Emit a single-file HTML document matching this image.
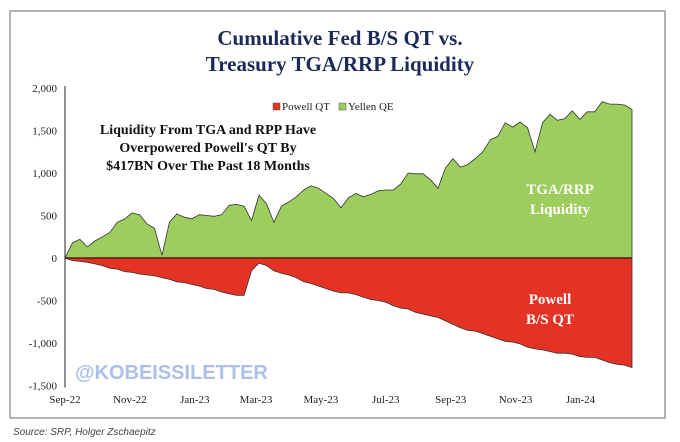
<!DOCTYPE html>
<html><head><meta charset="utf-8"><style>
body{margin:0;background:#fff;width:680px;height:442px;overflow:hidden}
svg{display:block}
.t{font-family:"Liberation Serif",serif}
</style></head><body>
<svg width="680" height="442">
<rect x="10" y="11" width="655" height="407" fill="#fff" stroke="#8a8a8a" stroke-width="1.3"/>
<text class="t" x="340" y="45" text-anchor="middle" font-size="21" font-weight="bold" fill="#1b2a58">Cumulative Fed B/S QT vs.</text>
<text class="t" x="340" y="71" text-anchor="middle" font-size="21" font-weight="bold" fill="#1b2a58">Treasury TGA/RRP Liquidity</text>
<g>
<rect x="273" y="103" width="7" height="7" fill="#e03524" stroke="#555" stroke-width="0.5"/>
<text class="t" x="282" y="110" font-size="11" fill="#222">Powell QT</text>
<rect x="339" y="103" width="7" height="7" fill="#9dcd5c" stroke="#555" stroke-width="0.5"/>
<text class="t" x="348" y="110" font-size="11" fill="#222">Yellen QE</text>
</g>
<g id="plot"></g>
<g class="t" font-weight="bold" font-size="14" fill="#111" text-anchor="middle">
<text x="208" y="134">Liquidity From TGA and RPP Have</text>
<text x="208" y="152">Overpowered Powell's QT By</text>
<text x="208" y="170">$417BN Over The Past 18 Months</text>
</g>
<g class="t" font-weight="bold" font-size="15" fill="#fff" text-anchor="middle">
<text x="560" y="194">TGA/RRP</text>
<text x="560" y="214">Liquidity</text>
<text x="550" y="304">Powell</text>
<text x="550" y="324">B/S QT</text>
</g>
<text x="75" y="379" font-family="Liberation Sans,sans-serif" font-weight="bold" font-size="20" fill="#adc0ea">@KOBEISSILETTER</text>
<text x="13" y="435" font-family="Liberation Sans,sans-serif" font-style="italic" font-size="10" fill="#444">Source: SRP, Holger Zschaepitz</text>
</svg>
<script>
const yellenQE=[0,180,220,130,200,250,300,420,460,530,510,400,350,30,420,520,480,460,510,500,490,510,620,630,610,440,740,640,420,610,660,720,800,850,820,760,700,590,710,760,720,750,790,800,800,870,1000,990,990,920,820,1060,1170,1070,1100,1170,1250,1390,1430,1590,1540,1600,1530,1250,1590,1690,1620,1640,1730,1630,1720,1720,1840,1810,1810,1800,1750];
const powellQT=[0,-30,-40,-50,-70,-90,-120,-130,-160,-170,-190,-200,-210,-230,-250,-280,-290,-310,-330,-360,-370,-400,-420,-440,-440,-150,-60,-90,-150,-180,-200,-230,-280,-300,-330,-360,-390,-410,-410,-430,-460,-490,-500,-520,-560,-590,-600,-640,-660,-680,-700,-740,-780,-820,-850,-860,-890,-920,-950,-980,-990,-1010,-1050,-1070,-1080,-1100,-1120,-1120,-1130,-1160,-1170,-1170,-1200,-1230,-1250,-1260,-1290];
const yTicks=[2000,1500,1000,500,0,-500,-1000,-1500];
const yTickLabels=["2,000","1,500","1,000","500","0","-500","-1,000","-1,500"];
const xLabels=["Sep-22","Nov-22","Jan-23","Mar-23","May-23","Jul-23","Sep-23","Nov-23","Jan-24"];
const xLabelIdx=[0,8.7,17.4,25.6,34.3,43,51.7,60.4,69.1];
const NS="http://www.w3.org/2000/svg";
const g=document.getElementById('plot');
const X0=65,X1=632,Y0=258,PX=170/2000;
const n=yellenQE.length;
const xs=i=>X0+i*(X1-X0)/(n-1);
const ys=v=>Y0-v*PX;
function mk(t,a){const e=document.createElementNS(NS,t);for(const k in a)e.setAttribute(k,a[k]);g.appendChild(e);return e;}
function area(arr){let d=`M${xs(0)},${Y0}`;arr.forEach((v,i)=>d+=` L${xs(i).toFixed(1)},${ys(v).toFixed(1)}`);d+=` L${xs(arr.length-1)},${Y0} Z`;return d;}
const ga=mk('path',{d:area(yellenQE),fill:'#9dcd5c',stroke:'#333','stroke-width':0.8});


const ra=mk('path',{d:area(powellQT),fill:'#e43324',stroke:'#333','stroke-width':0.8});


const zl=mk('line',{x1:X0,x2:X1,y1:Y0,y2:Y0,stroke:'#5a1a10','stroke-width':1.5});


const ax=mk('line',{x1:X0,x2:X0,y1:ys(2000)-2,y2:ys(-1500)+2,stroke:'#222','stroke-width':1});


yTicks.forEach((v,i)=>{const t=mk('text',{x:X0-8,y:ys(v)+4,'text-anchor':'end','font-size':11,'font-family':'Liberation Serif,serif',fill:'#222'});t.textContent=yTickLabels[i];

});
xLabels.forEach((s,i)=>{const t=mk('text',{x:xs(xLabelIdx[i]),y:403,'text-anchor':'middle','font-size':11,'font-family':'Liberation Serif,serif',fill:'#222'});t.textContent=s;

});
</script>
</body></html>
